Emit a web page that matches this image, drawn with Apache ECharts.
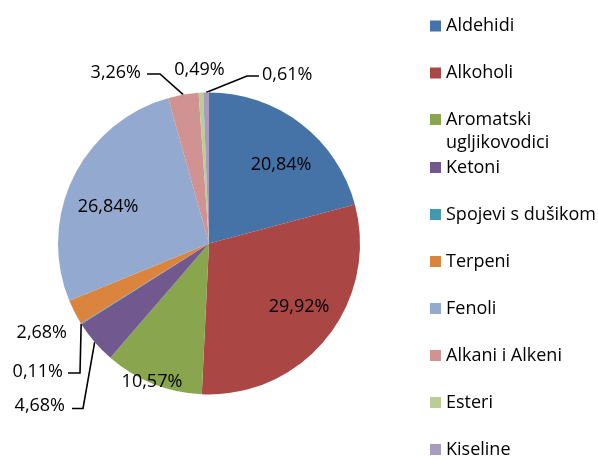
<!DOCTYPE html>
<html style="height: 100%">
<head>
<meta charset="utf-8">
<script src="https://cdn.jsdelivr.net/npm/echarts@6/dist/echarts.min.js"></script>
</head>
<body style="height: 100%; margin: 0; background: #fff">
<div id="chart" style="width: 598px; height: 459px;"></div>
<script>
// podaci
var categories = ['Aldehidi', 'Alkoholi', 'Aromatski ugljikovodici', 'Ketoni', 'Spojevi s dušikom',
    'Terpeni', 'Fenoli', 'Alkani i Alkeni', 'Esteri', 'Kiseline'];
var shares = [20.84, 29.92, 10.57, 4.68, 0.11, 2.68, 26.84, 3.26, 0.49, 0.61];
var colors = ['#4572A7', '#AA4643', '#89A54E', '#71588F', '#4198AF',
    '#DB843D', '#93A9CF', '#D19392', '#B9CD96', '#A99BBD'];

// geometrija kruga
var cx = 209, cy = 243.5, R = 151;
var font = 'Open Sans';

// smjestaj natpisa: unutra [udaljenost, pomak kuta], vani [x, y, poravnanje] + lom linije
var innerSpots = {
    'Aldehidi': [108, 4.3],
    'Alkoholi': [109, -4.6],
    'Aromatski ugljikovodici': [148, 0.9],
    'Fenoli': [108, -5.1]
};
var outerSpots = {
    'Terpeni': {text: [67, 331.5, 'right']},
    'Ketoni': {text: [65, 404, 'right'], bend: [83, 408.5], end: [72, 408.5]},
    'Spojevi s dušikom': {text: [63, 370, 'right'], bend: [80, 373], end: [68, 373]},
    'Alkani i Alkeni': {text: [141, 71.5, 'right'], bend: [160, 74], end: [147, 74]},
    'Esteri': {text: [199.5, 68, 'center']},
    'Kiseline': {text: [262, 73, 'left'], bend: [247, 76], end: [259, 76]}
};

var total = shares.reduce(function (a, b) { return a + b; }, 0);
function midAngle(i) {
    var before = 0;
    for (var k = 0; k < i; k++) before += shares[k];
    return (before + shares[i] / 2) / total * 360;
}
function polar(r, deg) {
    var a = deg * Math.PI / 180;
    return [cx + r * Math.sin(a), cy - r * Math.cos(a)];
}

var pieData = categories.map(function (name, i) {
    var o = outerSpots[name];
    return {
        name: name,
        value: shares[i],
        itemStyle: {color: colors[i]},
        labelLine: {show: !!(o && o.bend)}
    };
});

var legendBase = {
    orient: 'vertical',
    left: 430,
    padding: 0,
    height: 400,
    itemWidth: 11,
    itemHeight: 11,
    itemGap: 24,
    icon: 'rect',
    selectedMode: false,
    textStyle: {fontFamily: font, fontSize: 18, lineHeight: 23, color: '#000'}
};

var myChart = echarts.init(document.getElementById('chart'));
var option = {
    animation: false,
    backgroundColor: '#fff',
    legend: [
        Object.assign({}, legendBase, {top: 14.5, data: categories.slice(0, 2)}),
        Object.assign({}, legendBase, {
            top: 85, data: categories.slice(2, 3),
            formatter: function () { return '\nAromatski\nugljikovodici'; }
        }),
        Object.assign({}, legendBase, {top: 156, data: categories.slice(3)})
    ],
    series: [{
        type: 'pie',
        center: [cx, cy],
        radius: R,
        startAngle: 90,
        clockwise: true,
        avoidLabelOverlap: false,
        emphasis: {disabled: true},
        itemStyle: {borderWidth: 0},
        label: {
            show: true,
            position: 'outside',
            width: 90,
            fontFamily: font,
            fontSize: 18,
            color: '#000',
            formatter: function (p) {
                return p.value.toFixed(2).replace('.', ',') + '%';
            }
        },
        labelLine: {lineStyle: {color: '#000', width: 1.6}},
        labelLayout: function (p) {
            var i = p.dataIndex;
            var name = categories[i];
            if (innerSpots[name]) {
                var s = innerSpots[name];
                var pt = polar(s[0], midAngle(i) + s[1]);
                return {x: pt[0], y: pt[1] + 1.5, align: 'center', verticalAlign: 'middle'};
            }
            var o = outerSpots[name];
            var res = {x: o.text[0], y: o.text[1] + 1.5, align: o.text[2], verticalAlign: 'middle'};
            if (o.bend) {
                res.labelLinePoints = [polar(R, midAngle(i)), o.bend, o.end];
            }
            return res;
        },
        data: pieData
    }]
};
myChart.setOption(option);
</script>
</body>
</html>
